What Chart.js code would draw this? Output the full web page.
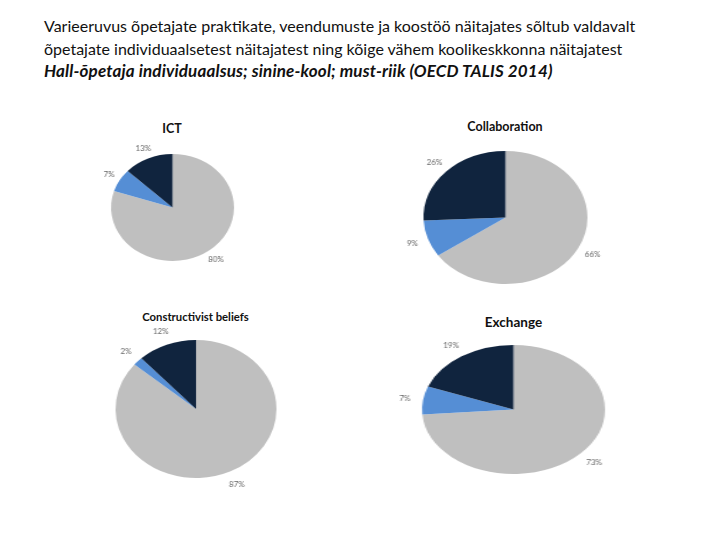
<!DOCTYPE html>
<html>
<head>
<meta charset="utf-8">
<script src="https://cdn.jsdelivr.net/npm/chart.js@4.4.0/dist/chart.umd.min.js"></script>
<style>
  body { margin: 0; background: #fff; width: 720px; height: 540px; position: relative; overflow: hidden; font-family: Lato, 'Open Sans', sans-serif; }
  .head { position: absolute; left: 44px; top: 15px; font-size: 16px; line-height: 22.5px; color: #111; white-space: nowrap; }
  .head .src { font-weight: bold; font-style: italic; font-size: 17px; letter-spacing: 0.15px; }
  .pie-title { position: absolute; transform: translate(-50%, -50%); font-weight: bold; color: #111; white-space: nowrap; }
  .pie-box { position: absolute; transform-origin: 50% 50%; }
</style>
</head>
<body>
<div class="head">Varieeruvus õpetajate praktikate, veendumuste ja koostöö näitajates sõltub valdavalt<br>õpetajate individuaalsetest näitajatest ning kõige vähem koolikeskkonna näitajatest<br><span class="src">Hall-õpetaja individuaalsus; sinine-kool; must-riik (OECD TALIS 2014)</span></div>
<script>
// Variance shares per indicator (teacher / school / country), in percent
const pieTitles = ['ICT', 'Collaboration', 'Constructivist beliefs', 'Exchange'];
const sliceLabels = ['Õpetaja', 'Kool', 'Riik'];
const teacherShare = [80, 66, 87, 73];
const schoolShare = [7, 9, 2, 7];
const countryShare = [13, 26, 12, 19];

const SLICE_COLORS = ['#bfbfbf', '#558ed5', '#10243e'];

// where each (elliptic) pie sits on the page
const PIE_LAYOUT = [
  { cx: 172, cy: 207, rx: 61.5, ry: 53.5, ty: 128, ts: 12.5 },
  { cx: 505, cy: 217, rx: 82, ry: 66.5, ty: 126, ts: 12.5 },
  { cx: 195.5, cy: 409, rx: 80.5, ry: 69, ty: 316, ts: 11.3 },
  { cx: 513.5, cy: 409.5, rx: 91.5, ry: 64.5, ty: 322, ts: 13.5 }
];
const PAD = 30;

// percent labels just outside each slice, un-stretched so text stays upright
const pctLabels = {
  id: 'pctLabels',
  afterDatasetsDraw(chart, args, opts) {
    const ctx = chart.ctx;
    const meta = chart.getDatasetMeta(0);
    const values = chart.data.datasets[0].data;
    ctx.save();
    ctx.font = '8px Lato';
    ctx.fillStyle = '#666666';
    ctx.textAlign = 'center';
    ctx.textBaseline = 'middle';
    meta.data.forEach((arc, i) => {
      const p = arc.getProps(['x', 'y', 'startAngle', 'endAngle', 'outerRadius'], true);
      const mid = (p.startAngle + p.endAngle) / 2;
      const r = p.outerRadius * 1.2;
      ctx.save();
      ctx.translate(p.x + Math.cos(mid) * r, p.y + Math.sin(mid) * r);
      ctx.scale(1 / opts.stretch, 1);
      ctx.fillText(values[i] + '%', 0, 0);
      ctx.restore();
    });
    ctx.restore();
  }
};

pieTitles.forEach((title, i) => {
  const L = PIE_LAYOUT[i];
  const size = Math.round(2 * L.ry + 2 * PAD);
  const stretch = L.rx / L.ry;

  const t = document.createElement('div');
  t.className = 'pie-title';
  t.style.left = L.cx + 'px';
  t.style.top = L.ty + 'px';
  t.style.fontSize = L.ts + 'px';
  t.textContent = title;
  document.body.appendChild(t);

  const box = document.createElement('div');
  box.className = 'pie-box';
  box.style.left = (L.cx - size / 2) + 'px';
  box.style.top = (L.cy - size / 2) + 'px';
  box.style.width = size + 'px';
  box.style.height = size + 'px';
  box.style.transform = `scaleX(${stretch})`;
  const canvas = document.createElement('canvas');
  canvas.width = size;
  canvas.height = size;
  box.appendChild(canvas);
  document.body.appendChild(box);

  new Chart(canvas.getContext('2d'), {
    type: 'pie',
    data: {
      labels: sliceLabels,
      datasets: [{
        data: [teacherShare[i], schoolShare[i], countryShare[i]],
        backgroundColor: SLICE_COLORS,
        borderWidth: 0
      }]
    },
    options: {
      responsive: false,
      animation: false,
      layout: { padding: PAD },
      plugins: {
        legend: { display: false },
        tooltip: { enabled: false },
        pctLabels: { stretch: stretch }
      }
    },
    plugins: [pctLabels]
  });
});
</script>
</body>
</html>
